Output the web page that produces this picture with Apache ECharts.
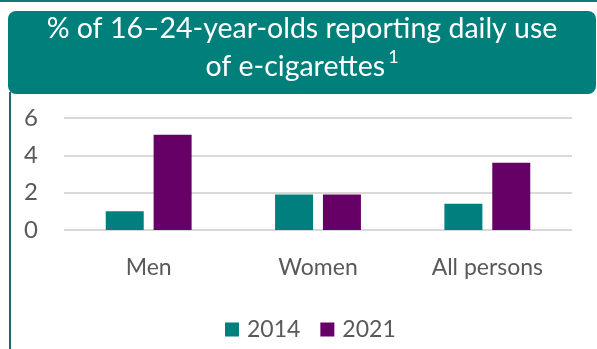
<!DOCTYPE html>
<html><head><meta charset="utf-8">
<script src="https://cdn.jsdelivr.net/npm/echarts@6/dist/echarts.min.js"></script>
<style>html,body{margin:0;padding:0;background:#fff}#c{width:597px;height:349px}</style>
</head><body><div id="c"></div>
<script>
const categories = ['Men', 'Women', 'All persons'];
const years = ['2014', '2021'];
const values2014 = [1.0, 1.9, 1.4];
const values2021 = [5.1, 1.9, 3.6];
const yTicks = [0, 2, 4, 6];

const FONT = 'Lato';
const chart = echarts.init(document.getElementById('c'), null, {renderer: 'canvas'});
chart.setOption({
  animation: false,
  textStyle: {fontFamily: FONT},
  graphic: [
    {type: 'rect', shape: {x: 0, y: 0, width: 597, height: 2}, style: {fill: '#0f7a76'}, z: 10},
    {type: 'rect', shape: {x: 8, y: 11, width: 588, height: 83, r: 8}, style: {fill: '#007f7b'}, z: 10},
    {type: 'rect', shape: {x: 9, y: 92, width: 2, height: 257}, style: {fill: '#1b6d6b'}, z: 10}
  ],
  title: {
    text: '% of 16–24-year-olds reporting daily use\nof e-cigarettes{sup|1}',
    left: 302, top: 10, padding: 0, textAlign: 'center',
    textStyle: {
      color: '#ffffff', fontFamily: FONT, fontWeight: 'normal', fontSize: 28.5, lineHeight: 38,
      rich: {sup: {fontSize: 18, color: '#ffffff', fontFamily: FONT, verticalAlign: 'top', lineHeight: 38, padding: [0,0,12,3]}}
    },
    z: 20
  },
  legend: {
    data: years, top: 318, left: 225, padding: 0, itemWidth: 14, itemHeight: 14, itemGap: 20,
    icon: 'rect', textStyle: {color: '#595959', fontSize: 23, fontFamily: FONT, padding: [0,0,0,3]}
  },
  grid: {left: 64, right: 25, top: 118, bottom: 119},
  xAxis: {
    type: 'category', data: categories,
    axisLine: {show: false}, axisTick: {show: false},
    axisLabel: {color: '#595959', fontSize: 23, fontFamily: FONT, margin: 26}
  },
  yAxis: {
    type: 'value', min: 0, max: 6, interval: 2,
    axisLabel: {color: '#595959', fontSize: 24, fontFamily: FONT, margin: 26},
    splitLine: {lineStyle: {color: '#d9d9d9', width: 2}},
    axisLine: {show: false}, axisTick: {show: false}
  },
  series: [
    {name: years[0], type: 'bar', data: values2014, barWidth: 38, barGap: '26%', itemStyle: {color: '#007f7f'}},
    {name: years[1], type: 'bar', data: values2021, barWidth: 38, itemStyle: {color: '#660066'}}
  ]
});
</script></body></html>
